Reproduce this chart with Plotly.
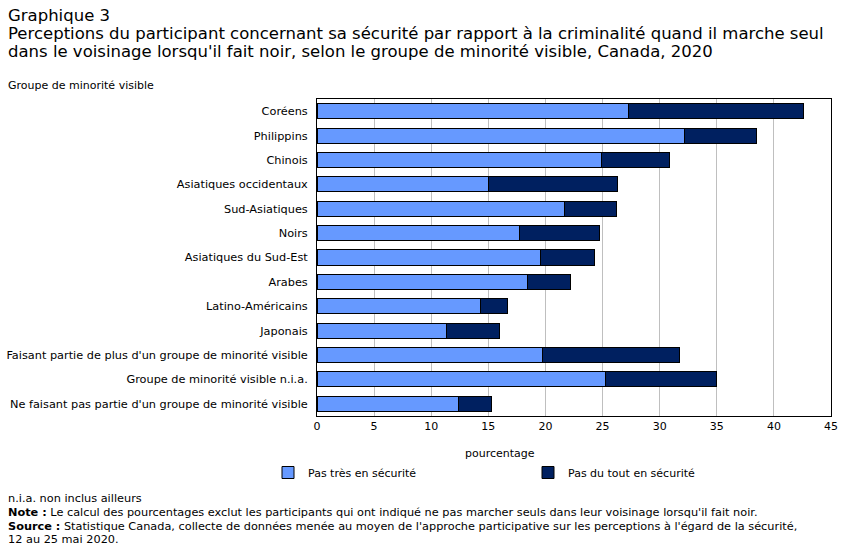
import plotly.graph_objects as go

categories = [
    "Coréens", "Philippins", "Chinois", "Asiatiques occidentaux", "Sud-Asiatiques",
    "Noirs", "Asiatiques du Sud-Est", "Arabes", "Latino-Américains", "Japonais",
    "Faisant partie de plus d'un groupe de minorité visible",
    "Groupe de minorité visible n.i.a.",
    "Ne faisant pas partie d'un groupe de minorité visible",
]
pas_tres = [27.3, 32.2, 24.9, 15.0, 21.7, 17.7, 19.6, 18.4, 14.3, 11.3, 19.7, 25.3, 12.4]
pas_du_tout = [15.3, 6.3, 6.0, 11.3, 4.5, 7.0, 4.7, 3.8, 2.4, 4.7, 12.0, 9.7, 2.9]
series_names = ["Pas très en sécurité", "Pas du tout en sécurité"]
x_ticks = [0, 5, 10, 15, 20, 25, 30, 35, 40, 45]

FONT = "DejaVu Sans"
W, H = 852, 550
ML, MR, MT, MB = 317, 21, 99, 134
PW, PH = W - ML - MR, H - MT - MB

fig = go.Figure()
fig.add_trace(go.Bar(
    y=categories, x=pas_tres, orientation="h", name=series_names[0],
    marker=dict(color="#6699FF", line=dict(color="#000000", width=1)),
))
fig.add_trace(go.Bar(
    y=categories, x=pas_du_tout, orientation="h", name=series_names[1],
    marker=dict(color="#002060", line=dict(color="#000000", width=1)),
))

fig.update_layout(
    barmode="stack",
    bargap=0.38,
    width=W, height=H,
    margin=dict(l=ML, r=MR, t=MT, b=MB, autoexpand=False),
    paper_bgcolor="white", plot_bgcolor="white",
    font=dict(family=FONT, size=11, color="#000000"),
    showlegend=True,
    legend=dict(
        orientation="h",
        x=(268 - ML) / PW, y=1 - (458 - MT) / PH, xanchor="left", yanchor="top",
        font=dict(family=FONT, size=11), entrywidth=215, entrywidthmode="pixels",
        traceorder="normal", itemwidth=30,
    ),
    xaxis=dict(
        range=[0, 45], tickvals=x_ticks, ticktext=[str(v) for v in x_ticks],
        showgrid=True, gridcolor="#BFBFBF", gridwidth=1,
        showline=True, linecolor="#000000", linewidth=1, mirror=True,
        ticks="", zeroline=False, tickfont=dict(family=FONT, size=11),
        fixedrange=True, automargin=False,
    ),
    yaxis=dict(
        categoryorder="array", categoryarray=categories[::-1],
        showline=True, linecolor="#000000", linewidth=1, mirror=True,
        ticks="", showgrid=False, tickfont=dict(family=FONT, size=11.3),
        ticklabelstandoff=6, fixedrange=True, automargin=False,
    ),
)

annotations = [
    dict(text="Graphique 3", x=6, y=4, size=16.5),
    dict(text="Perceptions du participant concernant sa sécurité par rapport à la criminalité quand il marche seul", x=6, y=22, size=16.5),
    dict(text="dans le voisinage lorsqu'il fait noir, selon le groupe de minorité visible, Canada, 2020", x=6, y=40, size=16.5),
    dict(text="Groupe de minorité visible", x=6, y=77, size=11),
    dict(text="n.i.a. non inclus ailleurs", x=6, y=490, size=11.3),
    dict(text="<b>Note :</b> Le calcul des pourcentages exclut les participants qui ont indiqué ne pas marcher seuls dans leur voisinage lorsqu'il fait noir.", x=6, y=504, size=11.3),
    dict(text="<b>Source :</b> Statistique Canada, collecte de données menée au moyen de l'approche participative sur les perceptions à l'égard de la sécurité,", x=6, y=518, size=11.3),
    dict(text="12 au 25 mai 2020.", x=6, y=531, size=11.3),
    dict(text="pourcentage", x=500, y=445, size=11, xanchor="center"),
]
for a in annotations:
    fig.add_annotation(
        text=a["text"], xref="paper", yref="paper",
        x=(a["x"] - ML) / PW,
        y=1 - (a["y"] - MT) / PH,
        xanchor=a.get("xanchor", "left"), yanchor="top", showarrow=False,
        align="left", font=dict(family=FONT, size=a["size"], color="#000000"),
    )

fig.write_html("out.html")
